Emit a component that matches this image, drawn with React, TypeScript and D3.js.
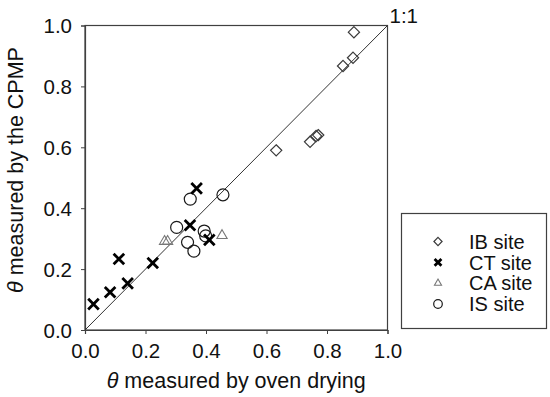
import { useEffect, useRef } from "react";
import * as d3 from "d3";

// theta values: [oven drying, CPMP]
const ibSite: [number, number][] = [
  [0.889, 0.978], [0.886, 0.894], [0.853, 0.867], [0.632, 0.59],
  [0.744, 0.618], [0.764, 0.637], [0.771, 0.64],
];
const ctSite: [number, number][] = [
  [0.028, 0.085], [0.083, 0.124], [0.112, 0.233], [0.141, 0.153],
  [0.224, 0.22], [0.347, 0.344], [0.369, 0.465], [0.411, 0.296],
];
const caSite: [number, number][] = [
  [0.263, 0.291], [0.273, 0.291], [0.453, 0.31],
];
const isSite: [number, number][] = [
  [0.348, 0.43], [0.456, 0.444], [0.303, 0.337], [0.339, 0.288],
  [0.36, 0.259], [0.394, 0.325], [0.399, 0.309],
];
const ticks = [0, 0.2, 0.4, 0.6, 0.8, 1.0];
const legendLabels = ["IB site", "CT site", "CA site", "IS site"];

const W = 550;
const H = 397;
const font = "'Liberation Sans', Arial, sans-serif";

const App = () => {
  const svgRef = useRef<SVGSVGElement>(null);

  useEffect(() => {
    const svg = d3.select(svgRef.current);
    svg.selectAll("*").remove();

    const margin = { left: 85, right: 387.5, top: 25.5, bottom: 330 };
    const x = d3.scaleLinear().domain([0, 1]).range([margin.left, margin.right]);
    const y = d3.scaleLinear().domain([0, 1]).range([margin.bottom, margin.top]);
    const axisColor = "#404040";

    // frame
    svg.append("rect")
      .attr("x", x(0)).attr("y", y(1))
      .attr("width", x(1) - x(0)).attr("height", y(0) - y(1))
      .attr("fill", "none").attr("stroke", axisColor).attr("stroke-width", 1.2);

    const xAxis = svg.append("g")
      .attr("transform", `translate(0,${y(0)})`)
      .call(d3.axisBottom(x).tickValues(ticks).tickFormat(d3.format(".1f")).tickSize(4).tickPadding(9));
    const yAxis = svg.append("g")
      .attr("transform", `translate(${x(0)},0)`)
      .call(d3.axisLeft(y).tickValues(ticks).tickFormat(d3.format(".1f")).tickSize(4).tickPadding(9));
    [xAxis, yAxis].forEach((g) => {
      g.select(".domain").attr("stroke", axisColor).attr("stroke-width", 1.2);
      g.selectAll(".tick line").attr("stroke", axisColor);
      g.selectAll(".tick text").attr("font-family", font).attr("font-size", 20.5).attr("fill", "#111");
    });
    yAxis.selectAll(".tick text").attr("dy", "0.36em");

    // 1:1 line
    svg.append("line")
      .attr("x1", x(0)).attr("y1", y(0)).attr("x2", x(1)).attr("y2", y(1))
      .attr("stroke", "#333").attr("stroke-width", 1);
    svg.append("text")
      .attr("x", x(1) + 2).attr("y", y(1) - 3)
      .attr("font-family", font).attr("font-size", 20.5).attr("fill", "#111")
      .text("1:1");

    const diamond = d3.symbol().type(d3.symbolDiamond2).size(80);
    const tri = d3.symbol().type(d3.symbolTriangle2).size(75);
    const cross = d3.symbol().type(d3.symbolTimes).size(75);

    const drawSet = (data: [number, number][], draw: (g: any) => void) => {
      const g = svg.append("g");
      data.forEach((d) => draw(g.append("g").attr("transform", `translate(${x(d[0])},${y(d[1])})`)));
    };

    const mDiamond = (g: any, s = diamond) => g.append("path").attr("d", s()).attr("fill", "none").attr("stroke", "#3a3a3a").attr("stroke-width", 1.2);
    const mCross = (g: any, s = cross) => g.append("path").attr("d", s()).attr("fill", "none").attr("stroke", "#000").attr("stroke-width", 2.8);
    const mTri = (g: any, s = tri) => g.append("path").attr("d", s()).attr("fill", "none").attr("stroke", "#777").attr("stroke-width", 1.1);
    const mCircle = (g: any, r = 6) => g.append("circle").attr("r", r).attr("fill", "none").attr("stroke", "#1a1a1a").attr("stroke-width", 1.2);

    drawSet(ibSite, (g) => mDiamond(g));
    drawSet(caSite, (g) => mTri(g));
    drawSet(isSite, (g) => mCircle(g));
    drawSet(ctSite, (g) => mCross(g));

    // axis titles
    const xt = svg.append("text")
      .attr("x", (x(0) + x(1)) / 2).attr("y", 388)
      .attr("text-anchor", "middle").attr("font-family", font).attr("font-size", 21.5).attr("fill", "#111");
    xt.append("tspan").attr("font-style", "italic").text("θ");
    xt.append("tspan").text(" measured by oven drying");

    const yt = svg.append("text")
      .attr("transform", `translate(22.5,${170}) rotate(-90)`)
      .attr("text-anchor", "middle").attr("font-family", font).attr("font-size", 21.5).attr("fill", "#111");
    yt.append("tspan").attr("font-style", "italic").text("θ");
    yt.append("tspan").text(" measured by the CPMP");

    // legend
    const lg = svg.append("g");
    lg.append("rect")
      .attr("x", 401.5).attr("y", 213.5).attr("width", 145).attr("height", 115)
      .attr("fill", "none").attr("stroke", axisColor).attr("stroke-width", 1.2);
    const rowY = d3.scalePoint<string>().domain(legendLabels).range([241.5, 304]);
    const smallMarks = [
      (g: any) => mDiamond(g, d3.symbol().type(d3.symbolDiamond2).size(42)),
      (g: any) => mCross(g, d3.symbol().type(d3.symbolTimes).size(32)),
      (g: any) => mTri(g, d3.symbol().type(d3.symbolTriangle2).size(36)),
      (g: any) => mCircle(g, 4.3),
    ];
    legendLabels.forEach((label, i) => {
      const cy = rowY(label) as number;
      smallMarks[i](lg.append("g").attr("transform", `translate(438,${cy})`));
      lg.append("text")
        .attr("x", 469).attr("y", cy).attr("dy", "0.36em")
        .attr("font-family", font).attr("font-size", 20).attr("fill", "#111")
        .text(label);
    });
  }, []);

  return (
    <svg ref={svgRef} width={W} height={H} style={{ position: "absolute", left: 0, top: 0, background: "#fff" }}></svg>
  );
};

export default App;
